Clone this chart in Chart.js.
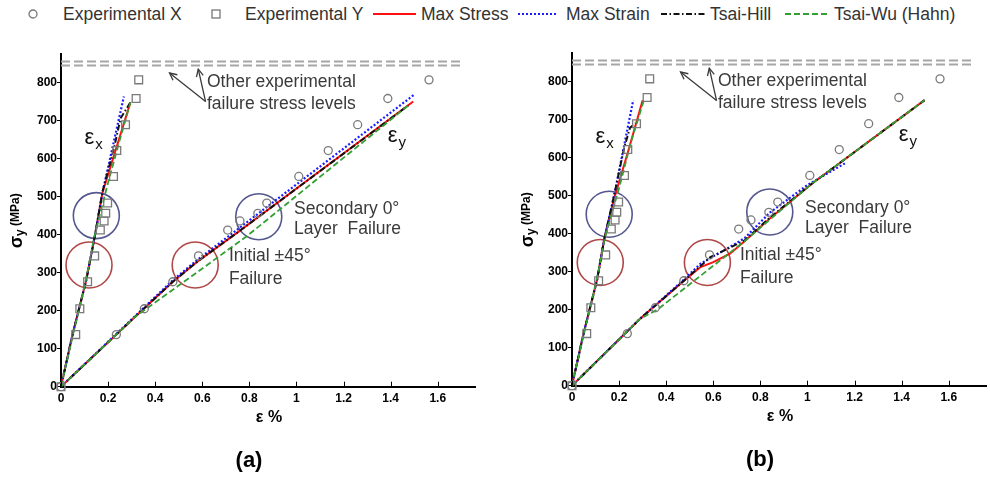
<!DOCTYPE html>
<html>
<head>
<meta charset="utf-8">
<title>Stress-strain response and failure criteria</title>
<script src="https://cdn.jsdelivr.net/npm/chart.js@4.4.1/dist/chart.umd.min.js"></script>
<style>
  html, body { margin: 0; padding: 0; background: #fff; overflow: hidden; }
  body { width: 990px; height: 483px; position: relative; font-family: "Liberation Sans", Arial, sans-serif; }
  canvas { position: absolute; }
  #chartA { left: 0; top: 0; }
  #chartB { left: 511px; top: -1px; }
  #legend { position: absolute; left: 0; top: 0; width: 990px; height: 30px; color: #333; font-size: 17.5px; }
  #legend span, #legend svg { position: absolute; }
  #legend span { top: 4px; line-height: 20px; white-space: nowrap; }
  #legend svg { top: 9px; }
</style>
</head>
<body>
<div id="legend"></div>
<canvas id="chartA" width="500" height="483"></canvas>
<canvas id="chartB" width="500" height="483"></canvas>
<script>
// experimental points (same test data in both panels), stress in MPa, strain in %
const expStress  = [0, 137, 205, 276, 344, 412, 436, 456, 483, 553, 621, 689, 758, 807];
const expXStrain = [0, 0.235, 0.354, 0.475, 0.584, 0.708, 0.76, 0.836, 0.874, 1.01, 1.135, 1.26, 1.388, 1.563];  // circles, eps_y branch
const expYStrain = [0, 0.0625, 0.08, 0.113, 0.143, 0.167, 0.183, 0.19, 0.198, 0.223, 0.237, 0.274, 0.319, 0.33]; // squares, eps_x branch

const xTicks = [0, 0.2, 0.4, 0.6, 0.8, 1, 1.2, 1.4, 1.6];
const yTicks = [0, 100, 200, 300, 400, 500, 600, 700, 800];

// other experimental failure stress levels
const failLevels = [845, 855];
const failSpan = [0, 1.7];

// model predictions, panel (a): [strain %, stress MPa]
const aMaxStressEx = [[0, 0], [0.05, 140], [0.107, 280], [0.145, 400], [0.176, 510], [0.295, 748]];
const aMaxStressEy = [[0, 0], [0.315, 184], [0.475, 276], [0.579, 329], [0.746, 404], [1.496, 750]];
const aMaxStrainEx = [[0, 0], [0.05, 140], [0.107, 280], [0.145, 400], [0.176, 510], [0.267, 763]];
const aMaxStrainEy = [[0, 0], [0.315, 186], [0.475, 280], [0.58, 334], [0.746, 412], [1.5, 768]];
const aTsaiHillEx  = [[0, 0], [0.05, 140], [0.107, 280], [0.145, 400], [0.176, 513], [0.225, 627], [0.253, 706], [0.295, 748]];
const aTsaiHillEy  = [[0, 0], [0.315, 184], [0.475, 276], [0.579, 329], [0.746, 404], [1.48, 742]];
const aTsaiWuEx    = [[0, 0], [0.052, 140], [0.105, 278], [0.14, 390], [0.197, 530], [0.25, 650], [0.295, 748]];
const aTsaiWuEy    = [[0, 0], [0.315, 184], [0.5, 266], [0.7875, 395], [1.1, 552], [1.48, 742]];

// model predictions, panel (b)
const bMaxStressEx = [[0, 0], [0.05, 140], [0.107, 280], [0.1375, 387], [0.179, 492], [0.242, 624], [0.3, 751]];
const bMaxStressEy = [[0, 0], [0.289, 176], [0.477, 277], [0.546, 312], [0.6, 325], [0.671, 347], [0.733, 380], [0.84, 440], [1.02, 532], [1.4975, 751]];
const bMaxStrainEx = [[0, 0], [0.05, 140], [0.107, 280], [0.1375, 387], [0.179, 500], [0.26, 751]];
const bMaxStrainEy = [[0, 0], [0.289, 176], [0.477, 280], [0.546, 321], [0.657, 360], [0.733, 388], [0.84, 455], [1.0, 528], [1.16, 585]];
const bTsaiHillEx  = [[0, 0], [0.05, 140], [0.107, 280], [0.1375, 387], [0.179, 501], [0.221, 624], [0.246, 678], [0.268, 690]];
const bTsaiHillEy  = [[0, 0], [0.289, 176], [0.477, 277], [0.5875, 338], [0.733, 382], [0.84, 442], [1.02, 532], [1.4975, 751]];
const bTsaiWuEx    = [[0, 0], [0.052, 140], [0.105, 278], [0.14, 390], [0.2, 520], [0.25, 640], [0.305, 750]];
const bTsaiWuEy    = [[0, 0], [0.289, 176], [0.3625, 200], [0.733, 380], [1.02, 532], [1.4975, 751]];

// highlighted regions (ring centres)
const aBlueRings = [[0.15, 450], [0.84, 447]];
const aRedRings  = [[0.119, 320], [0.57, 320]];
const bBlueRings = [[0.158, 451], [0.84, 457]];
const bRedRings  = [[0.12, 324], [0.575, 324]];

const FONT = '"Liberation Sans", Arial, sans-serif';
const styles = {
  maxStress: { borderColor: '#ff1010', borderWidth: 2, borderDash: [] },
  maxStrain: { borderColor: '#1c1cff', borderWidth: 2.2, borderDash: [2, 2] },
  tsaiHill:  { borderColor: '#111111', borderWidth: 2, borderDash: [6, 2.5, 1.5, 2.5] },
  tsaiWu:    { borderColor: '#34a034', borderWidth: 1.8, borderDash: [6, 3] }
};

// legend (html, shared by both panels)
const legendItems = [
  { label: 'Experimental X', kind: 'circle', m0: 28, m1: 38, tx: 63 },
  { label: 'Experimental Y', kind: 'square', m0: 211, m1: 221, tx: 245 },
  { label: 'Max Stress', kind: 'maxStress', m0: 373, m1: 416, tx: 421 },
  { label: 'Max Strain', kind: 'maxStrain', m0: 518, m1: 558, tx: 566 },
  { label: 'Tsai-Hill', kind: 'tsaiHill', m0: 661, m1: 705, tx: 710 },
  { label: 'Tsai-Wu (Hahn)', kind: 'tsaiWu', m0: 785, m1: 828, tx: 834 }
];
const legend = document.getElementById('legend');
legendItems.forEach(it => {
  const w = it.m1 - it.m0;
  let inner;
  if (it.kind === 'circle') {
    inner = '<circle cx="5" cy="5" r="4" fill="none" stroke="#777" stroke-width="1.3"/>';
  } else if (it.kind === 'square') {
    inner = '<rect x="1" y="1" width="8" height="8" fill="none" stroke="#777" stroke-width="1.3"/>';
  } else {
    const s = styles[it.kind];
    inner = '<line x1="0" y1="5" x2="' + w + '" y2="5" stroke="' + s.borderColor + '" stroke-width="' + s.borderWidth +
      '" stroke-dasharray="' + (s.borderDash.length ? s.borderDash.join(',') : 'none') + '"/>';
  }
  legend.insertAdjacentHTML('beforeend',
    '<svg width="' + w + '" height="10" style="left:' + it.m0 + 'px">' + inner + '</svg>' +
    '<span style="left:' + it.tx + 'px">' + it.label + '</span>');
});

const toXY = pairs => pairs.map(p => ({ x: p[0], y: p[1] }));

function lineSet(pairs, style) {
  return Object.assign({ data: toXY(pairs), showLine: true, pointRadius: 0, fill: false, tension: 0 }, style);
}

function ringSet(pairs, color) {
  return { data: toXY(pairs), pointRadius: 23, pointStyle: 'circle', borderColor: color, borderWidth: 1.6,
    backgroundColor: 'rgba(0,0,0,0)', showLine: false };
}

function drawArrow(ctx, x0, y0, x1, y1) {
  ctx.beginPath(); ctx.moveTo(x0, y0); ctx.lineTo(x1, y1); ctx.stroke();
  const a = Math.atan2(y1 - y0, x1 - x0), h = 8;
  ctx.beginPath();
  ctx.moveTo(x1 - h * Math.cos(a - 0.45), y1 - h * Math.sin(a - 0.45));
  ctx.lineTo(x1, y1);
  ctx.lineTo(x1 - h * Math.cos(a + 0.45), y1 - h * Math.sin(a + 0.45));
  ctx.stroke();
}

function drawEps(ctx, x, y, sub) {
  ctx.font = '22px ' + FONT;
  ctx.textAlign = 'left';
  ctx.textBaseline = 'middle';
  ctx.fillText('ε', x, y);
  const w = ctx.measureText('ε').width;
  ctx.font = '15px ' + FONT;
  ctx.fillText(sub, x + w + 1, y + 7);
}

// annotations, axis titles, inward x ticks, panel label
const annotate = {
  id: 'annotate',
  afterDraw(chart, args, opts) {
    const { ctx, chartArea: area, scales: { x, y } } = chart;
    const px = v => x.getPixelForValue(v);
    const py = v => y.getPixelForValue(v);
    ctx.save();

    ctx.strokeStyle = '#000';
    ctx.lineWidth = 1;
    xTicks.forEach(v => {
      const xx = Math.round(px(v)) + 0.5;
      ctx.beginPath(); ctx.moveTo(xx, area.bottom); ctx.lineTo(xx, area.bottom - 5); ctx.stroke();
    });

    ctx.fillStyle = '#3a3a3a';
    ctx.strokeStyle = '#3a3a3a';
    ctx.lineWidth = 1.3;
    drawArrow(ctx, px(0.614), py(750), px(0.461), py(825));
    drawArrow(ctx, px(0.614), py(750), px(0.583), py(835));

    ctx.font = '17.5px ' + FONT;
    ctx.textAlign = 'left';
    ctx.textBaseline = 'middle';
    ctx.fillText('Other experimental', px(0.62), py(800));
    ctx.fillText('failure stress levels', px(0.62), py(744));
    ctx.fillText('Secondary 0°', px(0.99), py(467));
    ctx.fillText('Layer  Failure', px(0.99), py(413));
    ctx.fillText('Initial ±45°', px(0.713), py(342));
    ctx.fillText('Failure', px(0.713), py(284));

    ctx.fillStyle = '#111';
    drawEps(ctx, px(0.1), py(655), 'x');
    drawEps(ctx, px(1.388), py(660), 'y');

    // axis titles
    ctx.fillStyle = '#000';
    ctx.font = 'bold 16px ' + FONT;
    ctx.textAlign = 'center';
    ctx.fillText('ε %', area.left + 208, 418);

    ctx.save();
    ctx.translate(17, (area.top + area.bottom) / 2 + 28);
    ctx.rotate(-Math.PI / 2);
    ctx.textAlign = 'left';
    ctx.font = 'bold 18px ' + FONT;
    ctx.fillText('σ', 0, 0);
    let off = ctx.measureText('σ').width;
    ctx.font = 'bold 12px ' + FONT;
    ctx.fillText('y', off, 4);
    off += ctx.measureText('y ').width;
    ctx.fillText('(MPa)', off, -1);
    ctx.restore();

    ctx.font = 'bold 22px ' + FONT;
    ctx.textAlign = 'center';
    ctx.fillText(opts.label, area.left + 188, 461);
    ctx.restore();
  }
};

function buildChart(id, panel) {
  const datasets = [
    { data: expXStrain.map((v, i) => ({ x: v, y: expStress[i] })), pointStyle: 'circle', pointRadius: 4,
      borderColor: '#7a7a7a', borderWidth: 1.3, backgroundColor: 'rgba(0,0,0,0)', showLine: false, clip: false },
    { data: expYStrain.map((v, i) => ({ x: v, y: expStress[i] })), pointStyle: 'rect', pointRadius: 5.5,
      borderColor: '#7a7a7a', borderWidth: 1.3, backgroundColor: 'rgba(0,0,0,0)', showLine: false, clip: false },
    lineSet(panel.tsaiWu[0], styles.tsaiWu),
    lineSet(panel.tsaiWu[1], styles.tsaiWu),
    lineSet(panel.tsaiHill[0], styles.tsaiHill),
    lineSet(panel.tsaiHill[1], styles.tsaiHill),
    lineSet(panel.maxStrain[0], styles.maxStrain),
    lineSet(panel.maxStrain[1], styles.maxStrain),
    lineSet(panel.maxStress[0], styles.maxStress),
    lineSet(panel.maxStress[1], styles.maxStress),
    ringSet(panel.blueRings, '#55588f'),
    ringSet(panel.redRings, '#b04848')
  ];
  failLevels.forEach(level => {
    datasets.push(lineSet(failSpan.map(v => [v, level]), { borderColor: '#a6a6a6', borderWidth: 2, borderDash: [9, 4] }));
  });

  const tickFont = { family: FONT, size: 12, weight: 'bold' };
  return new Chart(document.getElementById(id), {
    type: 'scatter',
    data: { datasets },
    options: {
      responsive: false,
      animation: false,
      events: [],
      layout: { padding: { top: 54, right: 17, left: 0, bottom: 0 } },
      plugins: { legend: { display: false }, tooltip: { enabled: false }, annotate: { label: panel.label } },
      scales: {
        x: {
          type: 'linear', min: 0, max: 1.76,
          afterBuildTicks: s => { s.ticks = xTicks.map(v => ({ value: v })); },
          afterFit: s => { s.height = 483 - 386.7; },
          grid: { display: false, drawTicks: false },
          border: { display: true, color: '#000', width: 2 },
          ticks: { color: '#000', font: tickFont, padding: 5, maxRotation: 0, autoSkip: false,
            callback: v => String(+v.toFixed(1)) }
        },
        y: {
          type: 'linear', min: 0, max: 875,
          afterBuildTicks: s => { s.ticks = yTicks.map(v => ({ value: v })); },
          afterFit: s => { s.width = 61; },
          grid: { drawOnChartArea: false, drawTicks: true, tickLength: 4, color: '#000', lineWidth: 1 },
          border: { display: true, color: '#000', width: 2 },
          ticks: { color: '#000', font: tickFont, padding: 0, autoSkip: false }
        }
      }
    },
    plugins: [annotate]
  });
}

buildChart('chartA', {
  label: '(a)',
  maxStress: [aMaxStressEx, aMaxStressEy], maxStrain: [aMaxStrainEx, aMaxStrainEy],
  tsaiHill: [aTsaiHillEx, aTsaiHillEy], tsaiWu: [aTsaiWuEx, aTsaiWuEy],
  blueRings: aBlueRings, redRings: aRedRings
});
buildChart('chartB', {
  label: '(b)',
  maxStress: [bMaxStressEx, bMaxStressEy], maxStrain: [bMaxStrainEx, bMaxStrainEy],
  tsaiHill: [bTsaiHillEx, bTsaiHillEy], tsaiWu: [bTsaiWuEx, bTsaiWuEy],
  blueRings: bBlueRings, redRings: bRedRings
});
</script>
</body>
</html>
